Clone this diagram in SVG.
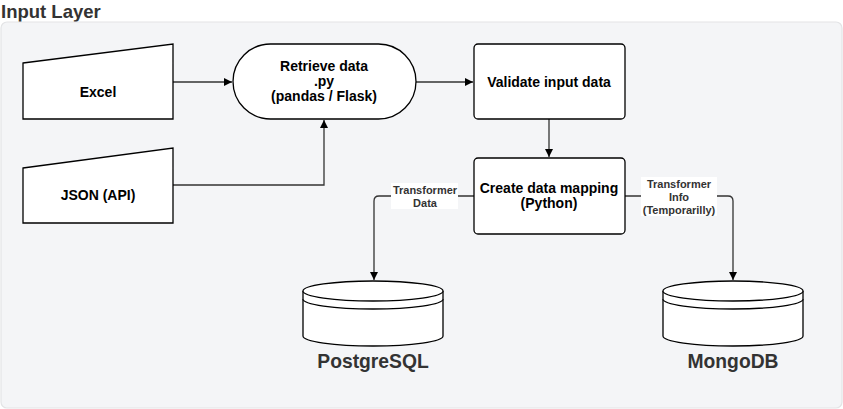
<svg xmlns="http://www.w3.org/2000/svg" width="843" height="409" viewBox="0 0 843 409">
<style>
.title{font-family:"Liberation Sans",Arial,sans-serif;font-weight:bold;font-size:18.5px;fill:#333}
.node{fill:#fff;stroke:#000;stroke-width:1.3}
.nt{font-family:"Liberation Sans",Arial,sans-serif;font-weight:bold;font-size:14px;fill:#000;text-anchor:middle}
.db{font-family:"Liberation Sans",Arial,sans-serif;font-weight:bold;font-size:19.3px;fill:#333;text-anchor:middle}
.el{font-family:"Liberation Sans",Arial,sans-serif;font-weight:bold;font-size:11px;fill:#333;text-anchor:middle}
.edge{fill:none;stroke:#333;stroke-width:1.3}
</style>
<defs>
<marker id="arr" viewBox="0 0 10 10" refX="10" refY="5" markerWidth="8" markerHeight="8" markerUnits="userSpaceOnUse" orient="auto">
<path d="M0,0 L10,5 L0,10 Z" fill="#000"/>
</marker>
</defs>
<text class="title" x="1" y="18">Input Layer</text>
<rect x="1" y="22" width="841" height="386" rx="6" fill="#f4f5f7" stroke="#e3e4e6" stroke-width="1.2"/>

<g id="connectors">
<path class="edge" d="M173,82 H232" marker-end="url(#arr)"/>
<path class="edge" d="M416,82 H473" marker-end="url(#arr)"/>
<path class="edge" d="M173,185 H324 V120" marker-end="url(#arr)"/>
<path class="edge" d="M549,119 V157" marker-end="url(#arr)"/>
<path class="edge" d="M474,196 H379 Q374,196 374,201 V280" marker-end="url(#arr)"/>
<path class="edge" d="M625,196 H728 Q733,196 733,201 V280" marker-end="url(#arr)"/>
<rect x="391" y="183" width="67" height="26" fill="#fff"/>
<text class="el" x="425" y="194">Transformer</text>
<text class="el" x="425" y="207">Data</text>
<rect x="641" y="177" width="76" height="39" fill="#fff"/>
<text class="el" x="679" y="188">Transformer</text>
<text class="el" x="679" y="201">Info</text>
<text class="el" x="679" y="214">(Temporarilly)</text>
</g>

<g id="excel">
<path class="node" d="M23,63 L173,44 L173,119 L23,119 Z"/>
<text class="nt" x="98" y="97">Excel</text>
</g>
<g id="json">
<path class="node" d="M23,168 L173,148 L173,223 L23,223 Z"/>
<text class="nt" x="98" y="200">JSON (API)</text>
</g>
<g id="retrieve">
<rect class="node" x="233" y="44" width="183" height="75" rx="37.5"/>
<text class="nt" x="324" y="71">Retrieve data</text>
<text class="nt" x="324" y="86">.py</text>
<text class="nt" x="324" y="101">(pandas / Flask)</text>
</g>
<g id="validate">
<rect class="node" x="474" y="44" width="151" height="75" rx="4"/>
<text class="nt" x="549" y="87">Validate input data</text>
</g>
<g id="mapping">
<rect class="node" x="474" y="158" width="151" height="76" rx="4"/>
<text class="nt" x="549" y="193">Create data mapping</text>
<text class="nt" x="549" y="208">(Python)</text>
</g>
<g id="postgres">
<path class="node" d="M303,291 A70,10 0 0 1 443,291 V336 A70,10 0 0 1 303,336 Z"/>
<path class="node" d="M303,291 A70,10 0 0 0 443,291 M303,299 A70,10 0 0 0 443,299" fill="none"/>
<text class="db" x="373" y="368">PostgreSQL</text>
</g>
<g id="mongodb">
<path class="node" d="M663,291 A70,10 0 0 1 803,291 V336 A70,10 0 0 1 663,336 Z"/>
<path class="node" d="M663,291 A70,10 0 0 0 803,291 M663,299 A70,10 0 0 0 803,299" fill="none"/>
<text class="db" x="733" y="368">MongoDB</text>
</g>
</svg>
